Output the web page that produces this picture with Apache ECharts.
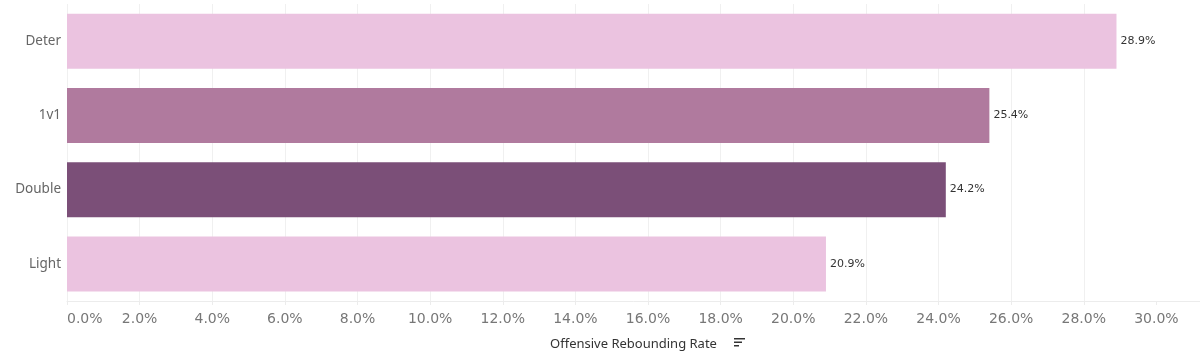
<!DOCTYPE html>
<html>
<head>
<meta charset="utf-8">
<script src="https://cdn.jsdelivr.net/npm/echarts@6/dist/echarts.min.js"></script>
<style>
html,body{margin:0;padding:0;background:#fff;}
#chart{width:1200px;height:359px;}
</style>
</head>
<body>
<div id="chart"></div>
<script>
const categories = ['Deter', '1v1', 'Double', 'Light'];
const values = [28.9, 25.4, 24.2, 20.9];
const barColors = ['#EBC3E0', '#B07A9E', '#7B4F78', '#EBC3E0'];
const tickValues = [0, 2, 4, 6, 8, 10, 12, 14, 16, 18, 20, 22, 24, 26, 28, 30];
const axisTitle = 'Offensive Rebounding Rate';

const chart = echarts.init(document.getElementById('chart'), null, {renderer: 'canvas'});
const font = '"Noto Sans", "Open Sans", sans-serif';
const wideFont = '"DejaVu Sans", "Noto Sans", sans-serif';

chart.setOption({
  animation: false,
  grid: {left: 67, right: 0, top: 4, bottom: 58, containLabel: false},
  xAxis: {
    type: 'value',
    min: 0,
    max: 31.2,
    interval: 2,
    name: axisTitle,
    nameLocation: 'middle',
    nameGap: 37,
    nameTextStyle: {color: '#333', fontSize: 13, fontFamily: font},
    axisLine: {show: true, lineStyle: {color: '#ececec', width: 1}},
    axisTick: {show: true, length: 4, lineStyle: {color: '#ececec'}, customValues: tickValues},
    axisLabel: {
      color: '#777', fontSize: 14, fontFamily: wideFont, margin: 11,
      customValues: tickValues,
      alignMinLabel: 'left',
      formatter: v => v.toFixed(1) + '%'
    },
    splitLine: {show: true, showMaxLine: false, lineStyle: {color: '#f0f0f0', width: 1}}
  },
  yAxis: {
    type: 'category',
    data: categories,
    inverse: true,
    axisLine: {show: false},
    axisTick: {show: false},
    axisLabel: {color: '#666', fontSize: 13.5, fontFamily: font, margin: 6}
  },
  series: [{
    type: 'bar',
    data: values.map((v, i) => ({value: v, itemStyle: {color: barColors[i]}})),
    barWidth: 55,
    label: {
      show: true,
      position: 'right',
      distance: 4,
      color: '#333',
      fontSize: 11,
      fontFamily: wideFont,
      formatter: p => p.value.toFixed(1) + '%'
    }
  }],
  graphic: [{
    type: 'group',
    left: 734,
    top: 338,
    children: [
      {type: 'rect', shape: {x: 0, y: 0, width: 11, height: 1.5}, style: {fill: '#333'}},
      {type: 'rect', shape: {x: 0, y: 3.5, width: 8, height: 1.5}, style: {fill: '#333'}},
      {type: 'rect', shape: {x: 0, y: 7, width: 5, height: 1.5}, style: {fill: '#333'}}
    ]
  }]
});
</script>
</body>
</html>
